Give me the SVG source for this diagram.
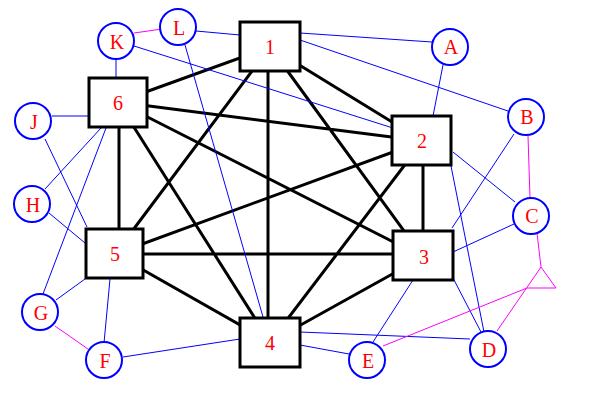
<svg xmlns="http://www.w3.org/2000/svg" width="600" height="400" viewBox="0 0 600 400">
<style>
.b{stroke:#000;stroke-width:3;fill:none}
.u{stroke:#00f;stroke-width:1;fill:none}
.m{stroke:#f0f;stroke-width:1;fill:none}
.box{fill:#fff;stroke:#000;stroke-width:3}
.c{fill:#fff;stroke:#00f;stroke-width:2}
text{font-family:"Liberation Serif",serif;font-size:20px;fill:#f00;text-anchor:middle;dominant-baseline:central}
</style>
<rect width="600" height="400" fill="#fff"/>
<g id="connectors">
<path class="b" d="M270,47L118,102M270,47L423,141M270,47L423,257M268,47L268,342M270,47L115,254M118,102L423,141M118,102L423,257M118,102L270,342M119,102L119,254M423,141L423,257M423,141L270,342M423,141L115,254M423,254L115,254M423,257L270,342M115,254L270,342"/>
<path class="u" d="M196,31L240,35M300,33L432,42M300,40L508,111M134,46L393,128M443,65L433,116M453,152L515,202M451,166L484,332M514,134L452,228M453,252L514,224M413,280L373,342M453,278L481,332M185,45L263,317M123,357L240,339M300,345L349,354M300,332L470,339M116,59L116,77M52,116L88,116M101,128L45,189M106,128L43,294M45,139L87,227M49,213L85,243M56,300L85,279M104,343L110,279"/>
<path class="m" d="M134,33L162,29M528,136L530,198M55,326L88,349M537,233L541,267L556,288L527,288M383,346L527,288M497,331L541,267"/>
</g>
<g id="n1"><rect class="box" x="240" y="22" width="60" height="49"/><text x="270" y="47">1</text></g>
<g id="n2"><rect class="box" x="392" y="116" width="59" height="49"/><text x="422" y="141">2</text></g>
<g id="n3"><rect class="box" x="393" y="231" width="60" height="49"/><text x="424" y="257">3</text></g>
<g id="n4"><rect class="box" x="240" y="318" width="60" height="49"/><text x="270" y="343">4</text></g>
<g id="n5"><rect class="box" x="86" y="229" width="57" height="49"/><text x="115" y="254">5</text></g>
<g id="n6"><rect class="box" x="89" y="78" width="58" height="49"/><text x="118" y="103">6</text></g>
<g id="A"><circle class="c" cx="450" cy="47" r="18"/><text x="451" y="47">A</text></g>
<g id="B"><circle class="c" cx="526" cy="117" r="18"/><text x="527" y="117">B</text></g>
<g id="C"><circle class="c" cx="531" cy="216" r="18"/><text x="532" y="216">C</text></g>
<g id="D"><circle class="c" cx="488" cy="349" r="18"/><text x="489" y="350">D</text></g>
<g id="E"><circle class="c" cx="367" cy="360" r="18"/><text x="368" y="361">E</text></g>
<g id="F"><circle class="c" cx="104" cy="360" r="18"/><text x="105" y="361">F</text></g>
<g id="G"><circle class="c" cx="40" cy="312" r="18"/><text x="41" y="313">G</text></g>
<g id="H"><circle class="c" cx="32" cy="204" r="18"/><text x="33" y="205">H</text></g>
<g id="J"><circle class="c" cx="33" cy="121" r="18"/><text x="34" y="122">J</text></g>
<g id="K"><circle class="c" cx="116" cy="41" r="18"/><text x="117" y="42">K</text></g>
<g id="L"><circle class="c" cx="178" cy="27" r="18"/><text x="179" y="28">L</text></g>
</svg>
